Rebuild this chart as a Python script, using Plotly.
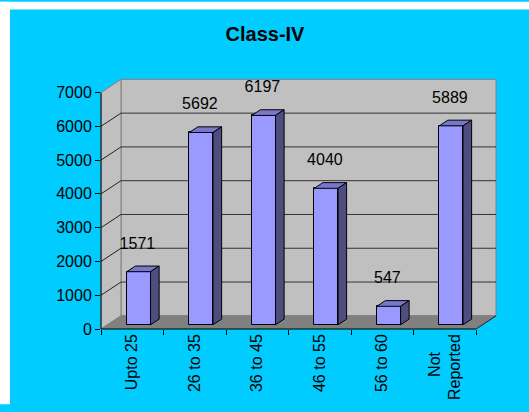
import plotly.graph_objects as go

# ---- data ----
categories = ["Upto 25", "26 to 35", "36 to 45", "46 to 55", "56 to 60",
              "Not" + "\u00a0" * 4 + "<br>Reported"]
values = [1571, 5692, 6197, 4040, 547, 5889]
y_ticks = [0, 1000, 2000, 3000, 4000, 5000, 6000, 7000]
chart_title = "Class-IV"

# ---- 3D look parameters (in axis units) ----
DX = 0.32      # depth offset along x (category units)
DY = 390       # depth offset along y (value units)
F1, F2 = 0.32, 0.75   # bar front / back depth fractions
W = 0.38       # bar width
YMAX = 7000
n = len(categories)
XL, XR = -0.5, n - 0.5

FONT = "Arial, Liberation Sans, sans-serif"
CYAN = "#00CCFF"
WALL = "#C0C0C0"
FLOOR = "#808080"
EDGE = "#808080"
FRONT = "#9999FF"
TOP = "#7777CC"
SIDE = "#4D4D80"

FIG_W, FIG_H = 529, 412
ML, MR, MT, MB = 101, 28, 72, 77
PW = FIG_W - ML - MR
PH = FIG_H - MT - MB

fig = go.Figure()


def path_of(xs, ys):
    return "M " + " L ".join(f"{x},{y}" for x, y in zip(xs, ys)) + " Z"


PX0, PX1 = -ML / PW, (FIG_W - ML) / PW
PY0, PY1 = -MB / PH, (PH + MT) / PH

shapes = [
    # white border strips (left, top), kept inside the figure
    dict(type="rect", xref="paper", yref="paper", x0=PX0, x1=(10 - ML) / PW,
         y0=PY0, y1=PY1, fillcolor="white", line=dict(width=0), layer="below"),
    dict(type="rect", xref="paper", yref="paper", x0=PX0, x1=PX1,
         y0=(PH + MT - 8) / PH, y1=PY1, fillcolor="white", line=dict(width=0), layer="below"),
    # back wall
    dict(type="path", xref="x", yref="y", layer="below",
         path=path_of([XL + DX, XR + DX, XR + DX, XL + DX], [DY, DY, YMAX + DY, YMAX + DY]),
         fillcolor=WALL, line=dict(color=EDGE, width=1)),
    # side wall
    dict(type="path", xref="x", yref="y", layer="below",
         path=path_of([XL, XL + DX, XL + DX, XL], [0, DY, YMAX + DY, YMAX]),
         fillcolor=WALL, line=dict(color=EDGE, width=1)),
    # floor
    dict(type="path", xref="x", yref="y", layer="below",
         path=path_of([XL, XR, XR + DX, XL + DX], [0, 0, DY, DY]),
         fillcolor=FLOOR, line=dict(color=FLOOR, width=1)),
    # floor right edge
    dict(type="line", xref="x", yref="y", layer="below", x0=XR, y0=0, x1=XR + DX, y1=DY,
         line=dict(color="#222222", width=1)),
]
# gridlines on side and back walls
for v in y_ticks[1:-1]:
    shapes.append(dict(type="line", xref="x", yref="y", layer="below",
                       x0=XL, y0=v, x1=XL + DX, y1=v + DY, line=dict(color="#222222", width=1)))
    shapes.append(dict(type="line", xref="x", yref="y", layer="below",
                       x0=XL + DX, y0=v + DY, x1=XR + DX, y1=v + DY, line=dict(color="#333333", width=1)))
# axis lines
shapes.append(dict(type="line", xref="x", yref="paper", x0=XL, x1=XR, y0=0, y1=0,
                   line=dict(color="black", width=1)))
shapes.append(dict(type="line", xref="paper", yref="y", x0=0, x1=0, y0=0, y1=YMAX,
                   line=dict(color="black", width=1)))

# bars: front faces
xs_front = [i + F1 * DX for i in range(n)]
base = F1 * DY
fig.add_trace(go.Bar(x=xs_front, y=values, base=[base] * n, width=W,
                     marker=dict(color=FRONT, line=dict(color="black", width=1)),
                     hoverinfo="skip", showlegend=False))


def poly(xs, ys, fill):
    fig.add_trace(go.Scatter(
        x=xs + [xs[0]], y=ys + [ys[0]], mode="lines", fill="toself",
        fillcolor=fill, line=dict(color="black", width=1),
        hoverinfo="skip", showlegend=False))


ddx = (F2 - F1) * DX
ddy = (F2 - F1) * DY
for i, v in enumerate(values):
    xl = xs_front[i] - W / 2
    xr = xs_front[i] + W / 2
    yb = base
    yt = base + v
    poly([xl, xr, xr + ddx, xl + ddx], [yt, yt, yt + ddy, yt + ddy], TOP)
    poly([xr, xr + ddx, xr + ddx, xr], [yb, yb + ddy, yt + ddy, yt], SIDE)

# data labels
fig.add_trace(go.Scatter(x=[x - 0.02 for x in xs_front], y=[base + v + 800 for v in values],
                         mode="text", text=[str(v) for v in values],
                         textfont=dict(family=FONT, size=16, color="black"),
                         textposition="middle center", hoverinfo="skip", showlegend=False))

# category tick marks on a matched overlay axis
fig.add_trace(go.Scatter(x=[XL], y=[0], mode="markers", marker=dict(opacity=0),
                         xaxis="x2", yaxis="y", hoverinfo="skip", showlegend=False))

fig.update_layout(
    width=FIG_W, height=FIG_H,
    margin=dict(l=ML, r=MR, t=MT, b=MB),
    paper_bgcolor=CYAN, plot_bgcolor="rgba(0,0,0,0)",
    title=dict(text="<b>" + chart_title + "</b>", x=265 / FIG_W, xref="container", xanchor="center",
               y=1 - 34 / FIG_H, yref="container", yanchor="middle",
               font=dict(family=FONT, size=20, color="black")),
    xaxis=dict(range=[XL, XL + PW / 62.5], tickmode="array", tickvals=list(range(n)), ticktext=categories,
               tickangle=-90, ticks="", showline=False, showgrid=False, zeroline=False,
               tickfont=dict(family=FONT, size=16, color="black"), ticklabelstandoff=1),
    xaxis2=dict(matches="x", overlaying="x", side="bottom", anchor="y",
                tickmode="array", tickvals=[XL + k for k in range(n + 1)],
                ticks="outside", ticklen=5, tickcolor="black", tickwidth=1,
                showticklabels=False, showline=False, showgrid=False, zeroline=False),
    yaxis=dict(range=[0, PH / (242 / 7000)], tickmode="array", tickvals=y_ticks,
               ticks="outside", ticklen=5, tickcolor="black", tickwidth=1,
               showline=False, showgrid=False, zeroline=False,
               tickfont=dict(family=FONT, size=16, color="black")),
    bargap=0,
    shapes=shapes,
)

fig.write_html("out.html", config={"displayModeBar": False},
               post_script="document.body.style.margin='0';")
